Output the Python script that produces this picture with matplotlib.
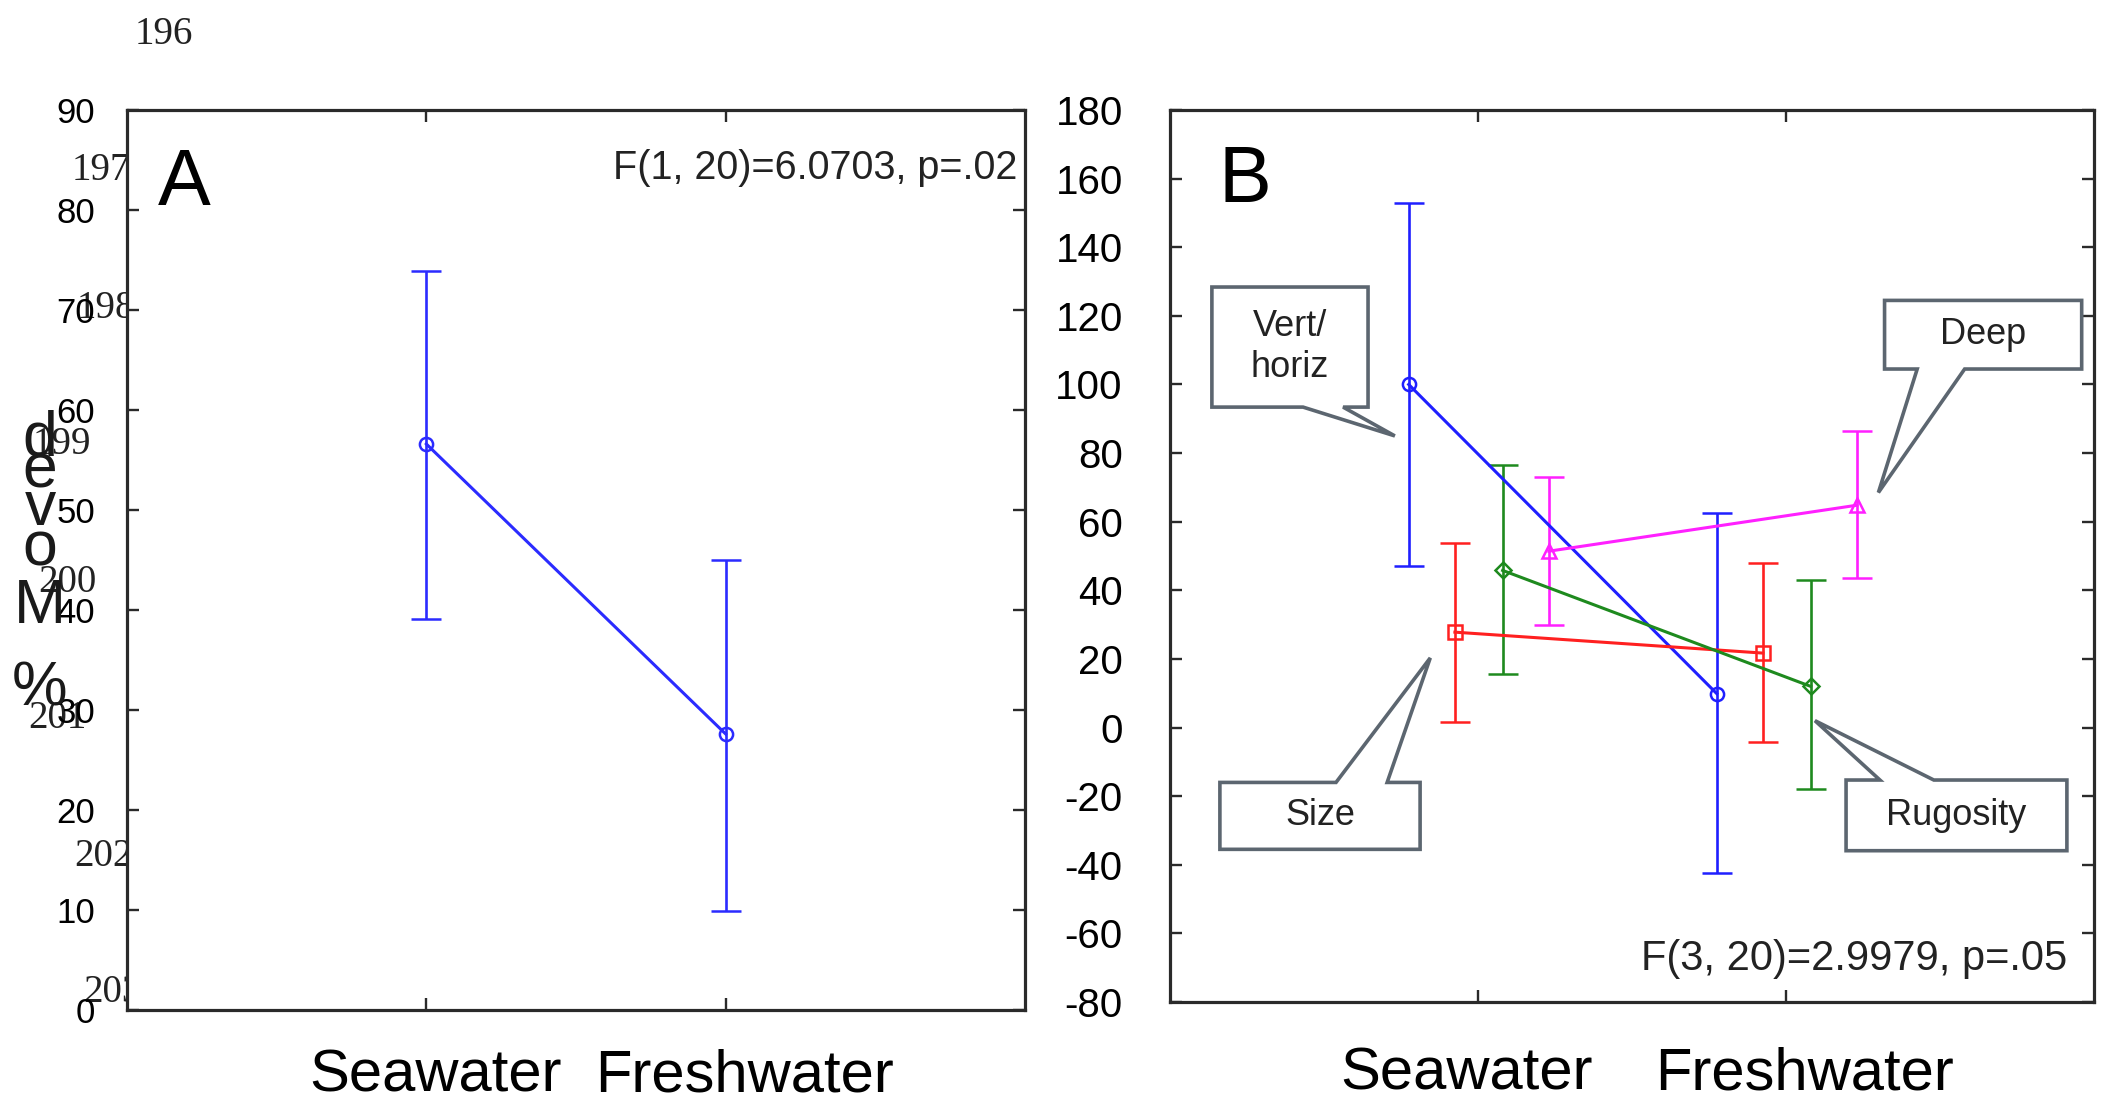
import numpy as np
import matplotlib.pyplot as plt
from matplotlib.patches import Polygon
from matplotlib.transforms import ScaledTranslation

plt.rcParams['font.family'] = ['Liberation Sans', 'DejaVu Sans']
plt.rcParams['axes.unicode_minus'] = False

W, H = 2115, 1115
groups = ['Seawater', 'Freshwater']

# panel A: mean with CI
a_mean = [56.6, 27.6]
a_low = [39.1, 9.9]
a_high = [73.9, 45.0]
a_yticks = list(range(0, 91, 10))

# panel B: four factors
vert_mean = [100.0, 9.9]
vert_low = [47.2, -42.5]
vert_high = [153.0, 62.4]
size_mean = [27.8, 21.7]
size_low = [1.6, -4.2]
size_high = [53.8, 48.0]
rug_mean = [45.8, 12.0]
rug_low = [15.7, -18.0]
rug_high = [76.6, 43.0]
deep_mean = [51.4, 64.8]
deep_low = [30.0, 43.5]
deep_high = [73.0, 86.5]
b_yticks = list(range(-80, 181, 20))

# manuscript line numbers showing through the scan
line_nums = ['196', '197', '198', '199', '200', '201', '202', '203']
line_x = [135, 72, 77, 33, 38, 28, 74, 83]
line_y = [34, 170, 308, 445, 582, 719, 856, 993]

ylab_letters = ['d', 'e', 'v', 'o', 'M', '%']
ylab_base = [455, 488, 525, 565, 623, 706]

fig = plt.figure(figsize=(W / 100, H / 100), dpi=100)

def px(x, y):
    return x / W, 1 - y / H

def style_axes(ax, yticks, ylim, pad):
    ax.set_xlim(0, 3)
    ax.set_ylim(*ylim)
    ax.set_yticks(yticks)
    ax.set_xticks([1, 2])
    ax.set_xticklabels(groups)
    for s in ax.spines.values():
        s.set_linewidth(2.3)
        s.set_color('#2a2a2a')
    ax.tick_params(direction='in', length=8.5, width=1.7, color='#2a2a2a',
                   top=True, right=True)
    ax.tick_params(axis='y', labelsize=pad[0], pad=pad[1])
    ax.tick_params(axis='x', labelsize=43, pad=pad[2])

def shift_xlabels(ax, dxs):
    for lab, dx in zip(ax.get_xticklabels(), dxs):
        lab.set_transform(lab.get_transform() + ScaledTranslation(dx / 100, 0, fig.dpi_scale_trans))

def ebar(ax, xs, mean, low, high, color, marker, ms):
    m = np.array(mean)
    err = [m - np.array(low), np.array(high) - m]
    ax.errorbar(xs, m, yerr=err, color=color, marker=marker, ms=ms, mfc='none',
                mec=color, mew=1.8, lw=2.2, elinewidth=1.9, capsize=11, capthick=2.4, zorder=3)

# ---- panel A
axA = fig.add_axes([127 / W, 1 - 1010 / H, 898 / W, 900 / H])
style_axes(axA, a_yticks, (0, 90), (25, 23, 28))
ebar(axA, [1, 2], a_mean, a_low, a_high, '#2b2bff', 'o', 9.5)
shift_xlabels(axA, [9, 19])
axA.text(0.034, 0.894, 'A', transform=axA.transAxes, fontsize=57, va='baseline')
axA.text(0.992, 0.923, 'F(1, 20)=6.0703, p=.02', transform=axA.transAxes,
         fontsize=28.5, ha='right', va='baseline', color='#222222')

# ---- panel B
axB = fig.add_axes([1170 / W, 1 - 1002 / H, 924 / W, 892 / H])
style_axes(axB, b_yticks, (-80, 180), (29, 34, 32))
offs = [-0.225, -0.075, 0.08, 0.23]
xs = np.array([1, 2])
ebar(axB, xs + offs[0], vert_mean, vert_low, vert_high, '#1f1fff', 'o', 9.5)
ebar(axB, xs + offs[1], size_mean, size_low, size_high, '#ff2020', 's', 9.5)
ebar(axB, xs + offs[2], rug_mean, rug_low, rug_high, '#1e8a1e', 'D', 8.5)
ebar(axB, xs + offs[3], deep_mean, deep_low, deep_high, '#ff20ff', '^', 10.5)
shift_xlabels(axB, [-11, 18])
axB.text(0.052, 0.897, 'B', transform=axB.transAxes, fontsize=57, va='baseline')
axB.text(0.971, 0.036, 'F(3, 20)=2.9979, p=.05', transform=axB.transAxes,
         fontsize=30, ha='right', va='baseline', color='#222222')

# callout boxes: text, box x0, x1, y_bottom, y_top, pointer side, base xa, xb, tip
callouts = [
    ('Vert/\nhoriz', 0.136, 0.643, 93.4, 128.4, 'bottom', 0.432, 0.562, (0.73, 85.0)),
    ('Deep', 2.32, 2.96, 104.5, 124.5, 'bottom', 2.426, 2.58, (2.30, 68.5)),
    ('Size', 0.162, 0.812, -35.5, -16.0, 'top', 0.539, 0.705, (0.845, 20.3)),
    ('Rugosity', 2.195, 2.912, -35.9, -15.3, 'top', 2.305, 2.48, (2.094, 2.0)),
]
for txt, x0, x1, y0, y1, side, xa, xb, tip in callouts:
    if side == 'bottom':
        verts = [(x0, y1), (x1, y1), (x1, y0), (xb, y0), tip, (xa, y0), (x0, y0)]
    else:
        verts = [(x0, y0), (x0, y1), (xa, y1), tip, (xb, y1), (x1, y1), (x1, y0)]
    axB.add_patch(Polygon(verts, closed=True, fc='white', ec='#5c6670', lw=2.6, zorder=5))
    axB.text((x0 + x1) / 2, (y0 + y1) / 2, txt, ha='center', va='center',
             fontsize=26, color='#222222', zorder=6, linespacing=1.25)

# ---- stray text from the scanned page
for t, x, y in zip(line_nums, line_x, line_y):
    fx, fy = px(x, y)
    fig.text(fx, fy, t, family='Liberation Serif', fontsize=28, ha='left', va='center',
             color='#222222', zorder=-1)

for ch, y in zip(ylab_letters, ylab_base):
    fx, fy = px(40, y)
    fig.text(fx, fy, ch, fontsize=45, ha='center', va='baseline', color='#1a1a1a')

fig.savefig('out.png', dpi=100)
